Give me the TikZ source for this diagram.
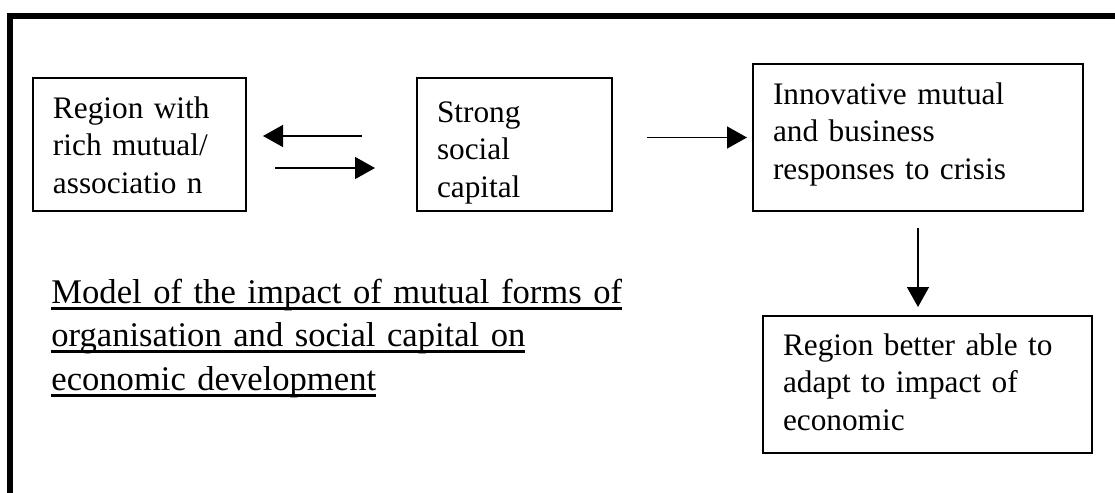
\documentclass[tikz,border=0pt]{standalone}
\usepackage{fontspec}
\setmainfont{Liberation Serif}
\usetikzlibrary{arrows.meta}
\newcommand{\ulline}[1]{\leavevmode\setbox0\hbox{#1}\rlap{\rule[-3.25pt]{\wd0}{1.5pt}}\box0}
\begin{document}
\begin{tikzpicture}[x=0.5pt, y=0.5pt, >={Triangle[length=10pt,width=11pt]}, line join=miter,
 stage/.style={draw, line width=1pt, anchor=north west, inner xsep=10pt, inner ysep=0pt, outer sep=0pt, align=left, font=\fontsize{15.65pt}{18.75pt}\selectfont},
 link/.style={->, line width=0.7pt}]
\useasboundingbox (0,0) rectangle (1115,-493);
% khung ngoai
\draw[line width=3pt] (9.5,-493) |- (1115,-16.3);
% cac o
\node[stage, text width=86.5pt, text height=20pt, text depth=46.5pt] (reg) at (33,-78) {Region with\\rich mutual/\\associatio n};
\node[stage, text width=77.5pt, text height=22pt, text depth=44.5pt] (cap) at (417,-78) {Strong\\social\\capital};
\node[stage, text width=145pt, text height=20pt, text depth=53.5pt] (inno) at (753,-64) {Innovative mutual\\and business\\responses to crisis};
\node[stage, text width=144.5pt, text height=19.5pt, text depth=49pt] (adapt) at (763,-316) {Region better able to\\adapt to impact of\\economic};
% tieu de
\node[anchor=base west, inner sep=0pt, text width=320pt, align=left, font=\fontsize{17.3pt}{21.75pt}\selectfont] (title) at (51,-303)
 {\ulline{Model of the impact of mutual forms of}\\\ulline{organisation and social capital on}\\\ulline{economic development}};
% cac mui ten
\draw[link] ([shift={(-55,8.5)}]cap.west) -- ([shift={(17,8.5)}]reg.east);
\draw[link] ([shift={(29,-23.5)}]reg.east) -- ([shift={(-42,-23.5)}]cap.west);
\draw[link] ([xshift=17.5pt]cap.east |- inno.west) -- ([xshift=-3pt]inno.west);
\draw[link] ([yshift=-8.5pt]inno.south) -- ([yshift=4.5pt]inno.south |- adapt.north);
\end{tikzpicture}
\end{document}
